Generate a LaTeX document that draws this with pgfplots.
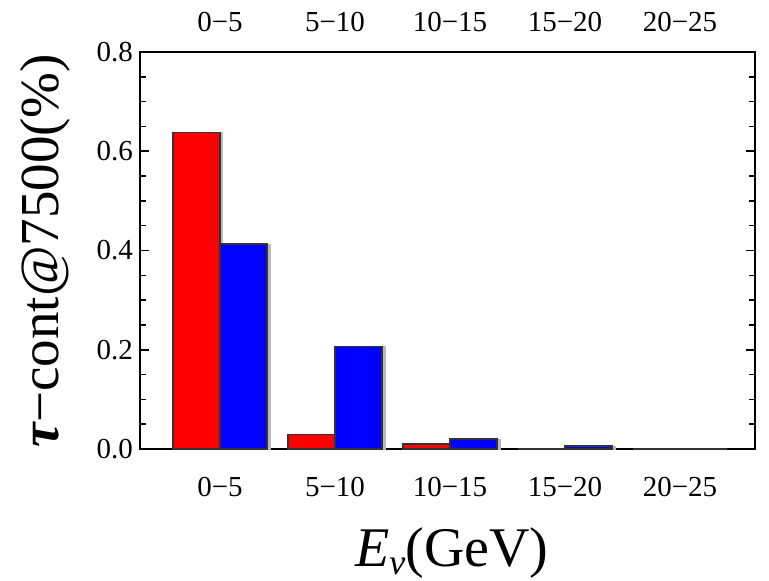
\documentclass[border=0pt]{standalone}
\usepackage{fontspec}
\setmainfont{Liberation Serif}
\usepackage{pgfplots}
\pgfplotsset{compat=1.18}
\begin{document}
\begin{tikzpicture}
\pgfplotsset{
  common/.style={
    scale only axis, width=307.5pt, height=198.5pt,
    xmin=0.304, xmax=5.652, ymin=0, ymax=0.8,
    xtick={1,2,3,4,5},
    xticklabels={0−5,5−10,10−15,15−20,20−25},
    xtick style={draw=none},
    tick label style={font=\fontsize{14.5}{16}\selectfont},
  }
}
\begin{axis}[common,
  ytick={0,0.2,0.4,0.6,0.8}, minor y tick num=3,
  yticklabel style={/pgf/number format/.cd, fixed, fixed zerofill, precision=1, assume math mode=true},
  xticklabel style={anchor=center, yshift=-14.5pt},
  major tick length=4.5pt, minor tick length=2.8pt,
  axis line style={line width=0.9pt},
  every tick/.style={black, line width=0.8pt},
  ylabel={{\bfseries\itshape τ}−cont@7500(\%)},
  ylabel style={at={(axis description cs:-0.1545,0.5)}, anchor=center, font=\fontsize{27.5}{30}\selectfont},
  xlabel={{\itshape E}\raisebox{-0.3ex}{\fontsize{18}{19}\selectfont\itshape ν}(GeV)},
  xlabel style={at={(axis description cs:0.507,-0.262)}, anchor=center, font=\fontsize{28}{32}\selectfont},
  ybar, bar width=0.409,
]
\coordinate (O) at (rel axis cs:0,0);
% shadows
\addplot[draw=gray!55, fill=gray!55, bar shift=-0.18] coordinates {(1,0.637) (2,0.029) (3,0.010)};
\addplot[draw=gray!55, fill=gray!55, bar shift=0.23] coordinates {(1,0.413) (2,0.206) (3,0.020) (4,0.006)};
% bars
\addplot[draw=black!80, line width=0.6pt, fill={rgb,255:red,255;green,0;blue,0}, bar shift=-0.2045] coordinates {(1,0.637) (2,0.029) (3,0.010) (4,0) (5,0)};
\addplot[draw=black!80, line width=0.6pt, fill={rgb,255:red,0;green,0;blue,255}, bar shift=0.2045] coordinates {(1,0.413) (2,0.206) (3,0.020) (4,0.006) (5,0)};
\end{axis}
\begin{axis}[common,
  ytick=\empty, axis line style={draw=none},
  xticklabel pos=upper,
  xticklabel style={anchor=center, yshift=15pt},
]
\end{axis}
\pgfresetboundingbox
\path[use as bounding box] ([xshift=-70pt,yshift=-65.5pt]O) rectangle ++(384.5pt,290pt);
\end{tikzpicture}
\end{document}
